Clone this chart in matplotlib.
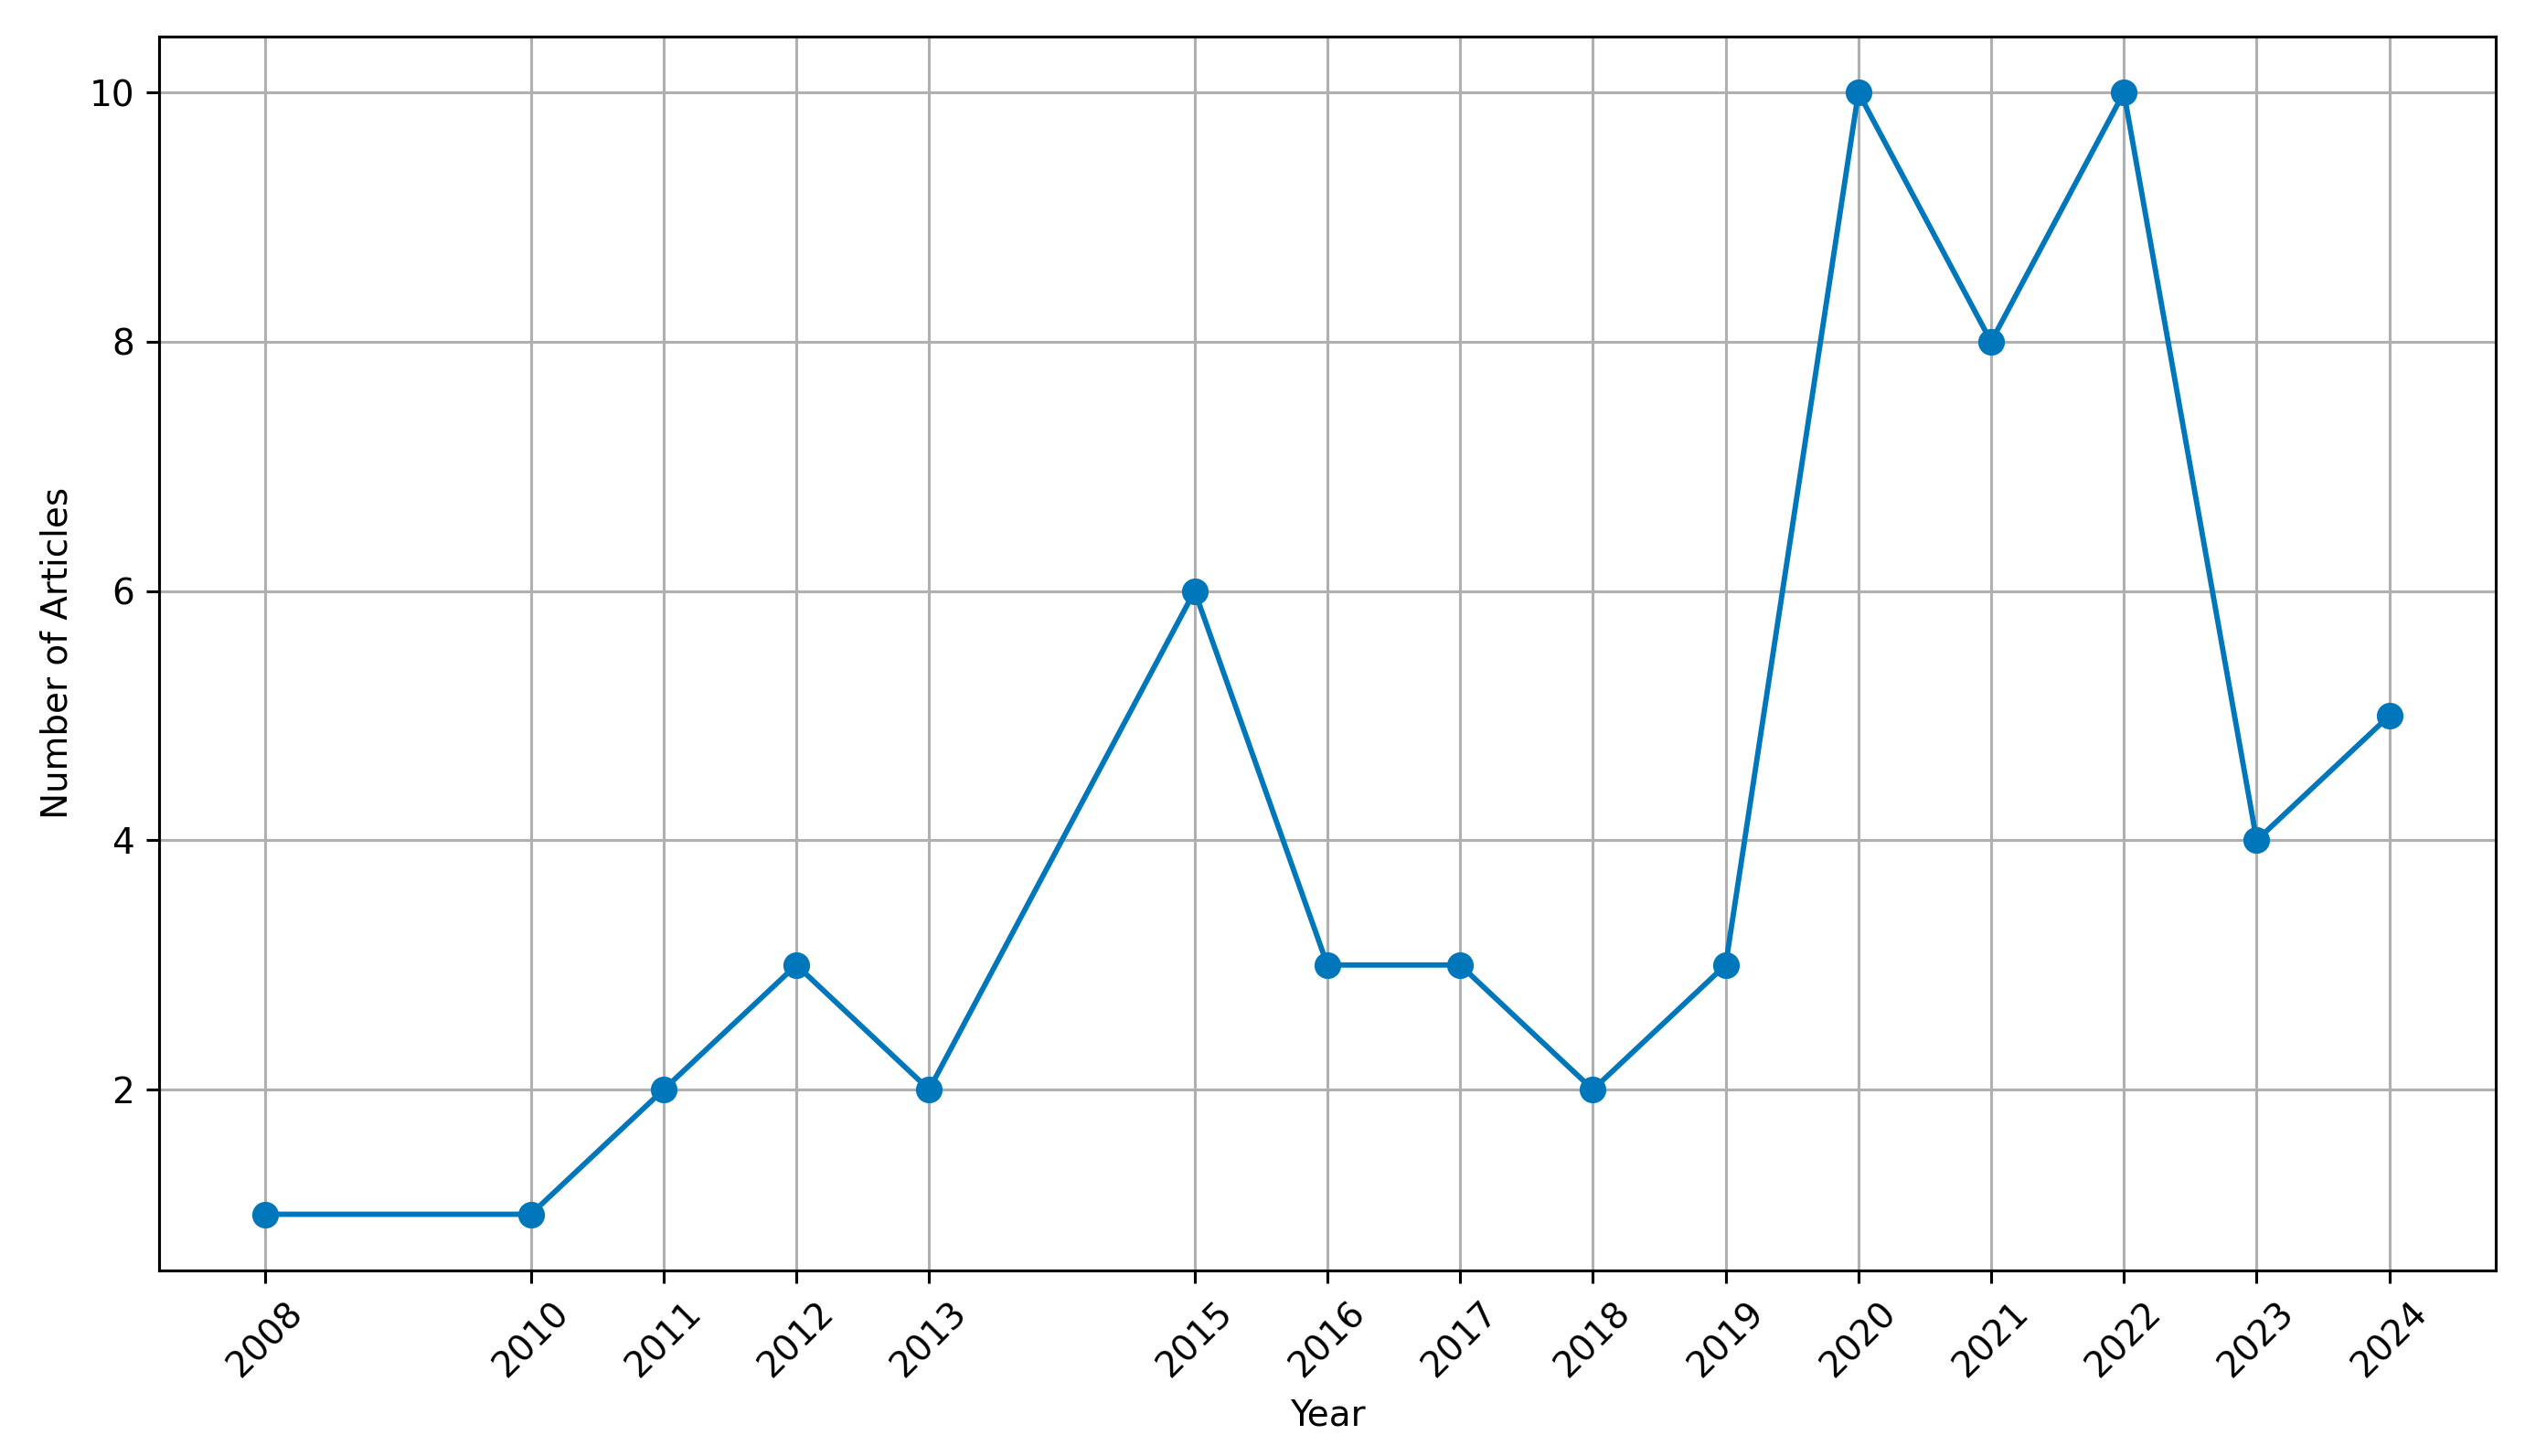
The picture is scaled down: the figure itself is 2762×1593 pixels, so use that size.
import matplotlib
matplotlib.use("Agg")
import matplotlib.pyplot as plt

# Articles per year
years = [2008, 2010, 2011, 2012, 2013, 2015, 2016, 2017, 2018, 2019,
         2020, 2021, 2022, 2023, 2024]
articles = [1, 1, 2, 3, 2, 6, 3, 3, 2, 3, 10, 8, 10, 4, 5]

fig = plt.figure(figsize=(2763 / 280, 1593 / 280), dpi=280)
ax = fig.add_subplot(111)
fig.subplots_adjust(left=0.063, right=0.988, top=0.975, bottom=0.1275)

ax.plot(years, articles, marker="o", color="#0077bb", linewidth=1.5, markersize=6.5)

ax.set_xlabel("Year")
ax.set_ylabel("Number of Articles")
ax.set_xticks(years)
ax.set_xticklabels([str(y) for y in years], rotation=45)
ax.grid(True)

fig.savefig("out.png", dpi=280)
